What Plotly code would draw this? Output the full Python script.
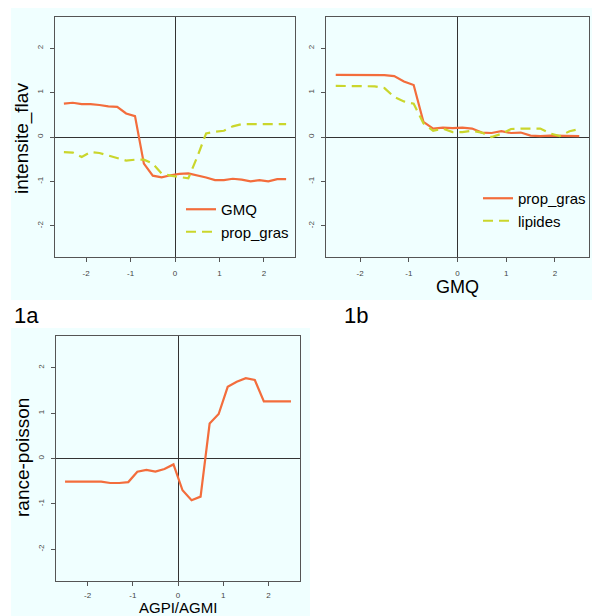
import plotly.graph_objects as go

W, H = 592, 616

# ---------------- data ----------------
x_vals = [-2.5, -2.3, -2.1, -1.9, -1.7, -1.5, -1.3, -1.1, -0.9, -0.7, -0.5, -0.3, -0.1,
          0.1, 0.3, 0.5, 0.7, 0.9, 1.1, 1.3, 1.5, 1.7, 1.9, 2.1, 2.3, 2.5]

p1_gmq = [0.75, 0.77, 0.74, 0.74, 0.72, 0.69, 0.68, 0.53, 0.47, -0.60, -0.87, -0.91, -0.86,
          -0.83, -0.82, -0.86, -0.91, -0.97, -0.97, -0.94, -0.96, -1.00, -0.97, -1.00, -0.95, -0.95]
p1_prop_gras = [-0.34, -0.35, -0.45, -0.34, -0.36, -0.42, -0.47, -0.53, -0.51, -0.51, -0.60, -0.82, -0.87,
                -0.90, -0.93, -0.45, 0.08, 0.12, 0.14, 0.24, 0.29, 0.29, 0.29, 0.29, 0.29, 0.29]

p2_prop_gras = [1.40, 1.40, 1.40, 1.40, 1.40, 1.39, 1.37, 1.25, 1.17, 0.34, 0.19, 0.21, 0.20,
                0.21, 0.19, 0.10, 0.09, 0.13, 0.09, 0.10, 0.03, 0.02, 0.03, 0.03, 0.02, 0.02]
p2_lipides = [1.15, 1.15, 1.14, 1.14, 1.14, 1.10, 0.90, 0.80, 0.75, 0.31, 0.14, 0.19, 0.11,
              0.11, 0.14, 0.10, 0.00, 0.07, 0.18, 0.19, 0.19, 0.19, 0.08, 0.02, 0.13, 0.18]

p3_rance = [-0.51, -0.51, -0.51, -0.51, -0.51, -0.54, -0.54, -0.52, -0.29, -0.25, -0.29, -0.23, -0.13,
            -0.70, -0.92, -0.84, 0.77, 0.98, 1.58, 1.69, 1.77, 1.73, 1.26, 1.26, 1.26, 1.26]

tick_vals = [-2, -1, 0, 1, 2]
tick_text = ["-2", "-1", "0", "1", "2"]
axis_range = [-2.7, 2.7]

ORANGE = "#f36d3c"
YELLOW = "#cad62c"
AZURE = "#f0ffff"
FONT = "Liberation Sans"

def px_dom(a, b, total):
    return [a / total, b / total]

def py_dom(top, bottom):
    return [(H - bottom) / H, (H - top) / H]

fig = go.Figure()

solid = dict(color=ORANGE, width=2.2)
dashed = dict(color=YELLOW, width=2.2, dash="10px,6px")

fig.add_trace(go.Scatter(x=x_vals, y=p1_gmq, mode="lines", line=solid, name="GMQ",
                         xaxis="x", yaxis="y", legend="legend"))
fig.add_trace(go.Scatter(x=x_vals, y=p1_prop_gras, mode="lines", line=dashed, name="prop_gras",
                         xaxis="x", yaxis="y", legend="legend"))
fig.add_trace(go.Scatter(x=x_vals, y=p2_prop_gras, mode="lines", line=solid, name="prop_gras",
                         xaxis="x2", yaxis="y2", legend="legend2"))
fig.add_trace(go.Scatter(x=x_vals, y=p2_lipides, mode="lines", line=dashed, name="lipides",
                         xaxis="x2", yaxis="y2", legend="legend2"))
fig.add_trace(go.Scatter(x=x_vals, y=p3_rance, mode="lines", line=solid, name="rance-poisson",
                         xaxis="x3", yaxis="y3", showlegend=False))

def ax(domain, anchor, is_y=False, standoff=4):
    d = dict(domain=domain, anchor=anchor, range=axis_range, autorange=False,
             tickmode="array", tickvals=tick_vals, ticktext=tick_text,
             ticks="outside", ticklen=4, tickcolor="#555", tickwidth=1,
             tickfont=dict(family=FONT, size=8, color="#444"),
             showline=True, linecolor="#555", linewidth=1.2, mirror=True,
             showgrid=False, zeroline=True, zerolinecolor="#333", zerolinewidth=1,
             fixedrange=True, ticklabelstandoff=standoff)
    if is_y:
        d["tickangle"] = -90
    return d

layout = dict(
    width=W, height=H, margin=dict(l=0, r=0, t=0, b=0),
    paper_bgcolor="white", plot_bgcolor=AZURE,
    font=dict(family=FONT, color="black"),
    xaxis=ax(px_dom(55, 295, W), "y"),
    yaxis=ax(py_dom(17, 257), "x", True),
    xaxis2=ax(px_dom(326, 589, W), "y2"),
    yaxis2=ax(py_dom(17, 257), "x2", True),
    xaxis3=ax(px_dom(56, 300, W), "y3", standoff=2),
    yaxis3=ax(py_dom(336, 581), "x3", True),
    legend=dict(x=181 / W, y=1 - 193 / H, xanchor="left", yanchor="top",
                bgcolor="rgba(0,0,0,0)", borderwidth=0,
                font=dict(family=FONT, size=15, color="black"),
                itemwidth=30, tracegroupgap=0),
    legend2=dict(x=478 / W, y=1 - 182 / H, xanchor="left", yanchor="top",
                 bgcolor="rgba(0,0,0,0)", borderwidth=0,
                 font=dict(family=FONT, size=15, color="black"),
                 itemwidth=30, tracegroupgap=0),
    shapes=[
        dict(type="rect", xref="paper", yref="paper", x0=11 / W, x1=1, y0=1 - 300 / H, y1=1 - 8 / H,
             fillcolor=AZURE, line=dict(width=0), layer="below"),
        dict(type="rect", xref="paper", yref="paper", x0=11 / W, x1=310 / W, y0=0, y1=1 - 328 / H,
             fillcolor=AZURE, line=dict(width=0), layer="below"),
    ],
    annotations=[
        dict(text="intensite_flav", xref="paper", yref="paper", x=22 / W, y=1 - 139 / H,
             showarrow=False, textangle=-90, font=dict(family=FONT, size=19, color="black"),
             xanchor="center", yanchor="middle"),
        dict(text="GMQ", xref="paper", yref="paper", x=457 / W, y=1 - 287 / H,
             showarrow=False, font=dict(family=FONT, size=18, color="black"),
             xanchor="center", yanchor="middle"),
        dict(text="rance-poisson", xref="paper", yref="paper", x=22 / W, y=1 - 458 / H,
             showarrow=False, textangle=-90, font=dict(family=FONT, size=19, color="black"),
             xanchor="center", yanchor="middle"),
        dict(text="AGPI/AGMI", xref="paper", yref="paper", x=178 / W, y=1 - 607.5 / H,
             showarrow=False, font=dict(family=FONT, size=15, color="black"),
             xanchor="center", yanchor="middle"),
        dict(text="1a", xref="paper", yref="paper", x=12 / W, y=1 - 315 / H,
             showarrow=False, font=dict(family=FONT, size=22, color="black"),
             xanchor="left", yanchor="middle"),
        dict(text="1b", xref="paper", yref="paper", x=342 / W, y=1 - 315 / H,
             showarrow=False, font=dict(family=FONT, size=22, color="black"),
             xanchor="left", yanchor="middle"),
    ],
)
fig.update_layout(**layout)
fig.write_html("out.html", config={"displayModeBar": False},
               post_script="document.body.style.margin='0px';document.body.style.overflow='hidden';")
